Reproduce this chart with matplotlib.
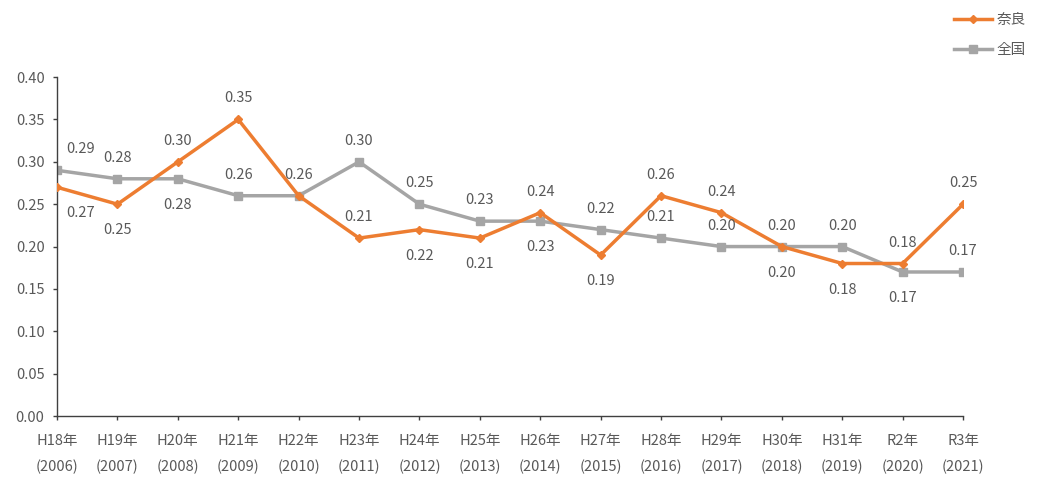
import matplotlib.pyplot as plt

plt.rcParams['font.family'] = ['Noto Sans CJK JP', 'DejaVu Sans']

## données
years = ['H18年\n(2006)', 'H19年\n(2007)', 'H20年\n(2008)', 'H21年\n(2009)', 'H22年\n(2010)',
         'H23年\n(2011)', 'H24年\n(2012)', 'H25年\n(2013)', 'H26年\n(2014)', 'H27年\n(2015)',
         'H28年\n(2016)', 'H29年\n(2017)', 'H30年\n(2018)', 'H31年\n(2019)', 'R2年\n(2020)',
         'R3年\n(2021)']
nara = [0.27, 0.25, 0.30, 0.35, 0.26, 0.21, 0.22, 0.21, 0.24, 0.19, 0.26, 0.24, 0.20, 0.18, 0.18, 0.25]
zenkoku = [0.29, 0.28, 0.28, 0.26, 0.26, 0.30, 0.25, 0.23, 0.23, 0.22, 0.21, 0.20, 0.20, 0.20, 0.17, 0.17]

## placement des étiquettes : a = dessus, b = dessous, r = décalé à droite, n = rien
nara_pos = ['rb', 'b', 'a', 'a', 'n', 'a', 'b', 'b', 'a', 'b', 'a', 'a', 'b', 'b', 'a', 'a']
zen_pos = ['ra', 'a', 'b', 'a', 'a', 'a', 'a', 'a', 'b', 'a', 'a', 'a', 'a', 'a', 'b', 'a']

orange = '#ED7D31'
gris = '#A5A5A5'
txt = '#595959'

fig = plt.figure(figsize=(10.39, 4.79), dpi=100)
ax = fig.add_axes([0.0549, 0.1315, 0.872, 0.7075])

x = range(len(years))
ax.plot(x, nara, color=orange, lw=2.5, marker='D', ms=4.5, label='奈良', zorder=3)
ax.plot(x, zenkoku, color=gris, lw=2.5, marker='s', ms=5.5, label='全国', zorder=2)

def etiquettes(vals, pos):
    for i, (v, p) in enumerate(zip(vals, pos)):
        if p == 'n':
            continue
        dx = 24 if 'r' in p else 0
        dy = 21 if 'a' in p else -26
        ax.annotate('%.2f' % v, (i, v), xytext=(dx, dy), textcoords='offset pixels',
                    ha='center', va='center', fontsize=10.5, color=txt)

etiquettes(nara, nara_pos)
etiquettes(zenkoku, zen_pos)

ax.set_xlim(0, 15)
ax.set_ylim(0, 0.40)
ax.set_yticks([i * 0.05 for i in range(9)])
ax.set_yticklabels(['%.2f' % (i * 0.05) for i in range(9)])
ax.set_xticks(list(x))
ax.set_xticklabels(years, linespacing=2.0)

for s in ['top', 'right']:
    ax.spines[s].set_visible(False)
for s in ['left', 'bottom']:
    ax.spines[s].set_color('#404040')
    ax.spines[s].set_linewidth(1.0)
ax.tick_params(axis='both', colors='#404040', labelcolor=txt, labelsize=10.5, length=3, width=1)
ax.tick_params(axis='x', pad=10)
ax.tick_params(axis='y', pad=6)

fig.legend(loc='upper right', bbox_to_anchor=(1.0, 1.0), frameon=False, fontsize=10.5,
           labelcolor=txt, handlelength=2.6, labelspacing=1.1, handletextpad=0.3)

fig.savefig('out.png', dpi=100)
